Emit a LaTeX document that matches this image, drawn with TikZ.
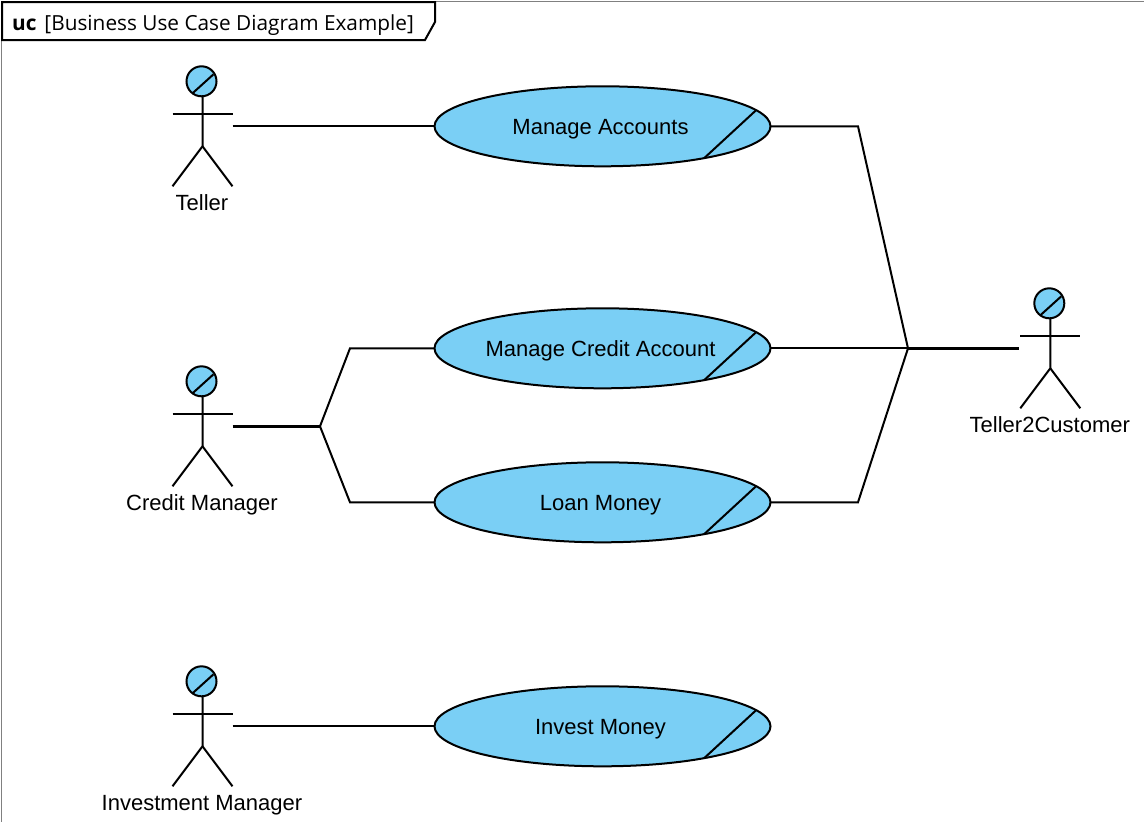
\documentclass[tikz,border=0pt]{standalone}
\usepackage{fontspec}
\setmainfont{Liberation Sans}
\newfontfamily\framefont{Open Sans}
\usetikzlibrary{calc,shapes.geometric}
\definecolor{ucblue}{HTML}{7ACFF5}
\tikzset{
  line/.style={line width=2pt,black},
  trunk/.style={line width=3pt,black},
  actorbox/.style={minimum width=60pt,minimum height=120pt,inner sep=0pt,outer sep=0pt},
  usecasebody/.style={draw,line width=2pt,fill=ucblue,ellipse,minimum width=336pt,minimum height=80pt,inner sep=0pt,outer sep=0pt},
  caption/.style={font=\fontsize{22}{26}\selectfont,inner sep=0pt,text=black,anchor=base}
}
\newcommand{\actor}[4]{
  \node[actorbox] (#1) at (#2,#3) {};
  \draw[line,fill=ucblue] ($(#1.center)+(-1,-45)$) circle (15pt);
  \draw[line] ($(#1.center)+(-10,-33)$) -- ($(#1.center)+(11,-52)$);% Slash in the head
  \draw[line] ($(#1.center)+(0,-30)$) -- ($(#1.center)+(0,20)$)
    -- ($(#1.center)+(-30,60)$);
  \draw[line] ($(#1.center)+(0,20)$) -- ($(#1.center)+(30,60)$);
  \draw[line] ($(#1.center)+(-30,-12)$) -- ($(#1.center)+(30,-12)$);
  \node[caption] (#1name) at ($(#1.south)+(-0.5,24.5)$) {#4};
}
\newcommand{\usecase}[4]{
  \node[usecasebody] (#1) at (#2,#3) {};
  \draw[line] ($(#1.center)+(101.5,32)$) -- ($(#1.center)+(153.5,-16)$);
  \node[caption] (#1name) at ($(#1.center)+(-2,8)$) {#4};
}
\begin{document}
\begin{tikzpicture}[x=1pt,y=-1pt]
    \useasboundingbox (0,0) rectangle (1144,822);
    \draw[gray,line width=1pt] (1,822) -- (1,1) -- (1144,1);

    \coordinate (tabA) at (2,2);
    \coordinate (tabB) at (435,2);
    \coordinate (tabC) at (435,22);
    \coordinate (tabD) at (425,40);
    \coordinate (tabE) at (2,40);
    \draw[line,fill=white] (tabA) -- (tabB) -- (tabC) -- (tabD) -- (tabE) -- cycle;
    \node[caption,anchor=base west,font=\framefont\fontsize{20.8}{25}\selectfont] (frametitle) at (12,30)
      {\textbf{uc}\hspace{2.5pt} [Business Use Case Diagram Example]};

    \foreach \name/\x/\y/\txt in {teller/202.5/126.3/Teller,
      credit/202.5/426.3/Credit Manager,
      invest/202.5/726.3/Investment Manager,
      customer/1050.3/348.3/Teller2Customer}{
      \actor{\name}{\x}{\y}{\txt}
    }

    \usecase{accounts}{602.5}{126.3}{Manage Accounts}
    \usecase{creditacc}{602.5}{348.3}{Manage Credit Account}
    \usecase{loan}{602.5}{502.3}{Loan Money}
    \usecase{money}{602.5}{726.3}{Invest Money}

    \coordinate (left) at (320,426.3);
    \coordinate (leftup) at (350,348.3);
    \coordinate (leftdown) at (350,502.3);
    \coordinate (right) at (908,348.3);
    \coordinate (rightup) at (858,126.3);
    \coordinate (rightdown) at (858,502.3);

    \draw[line] (teller.east) -- (accounts.west);
    \draw[line] (invest.east) -- (money.west);

    \draw[trunk] (credit.east) -- (left);
    \draw[line] (left) -- (leftup) -- (creditacc.west);
    \draw[line] (left) -- (leftdown) -- (loan.west);

    \draw[trunk,shorten >=1.5pt] (right) -- (customer.west);
    \draw[line] (accounts.east) -- (rightup) -- (right);
    \draw[line] (creditacc.east) -- (right);
    \draw[line] (loan.east) -- (rightdown) -- (right);
  \end{tikzpicture}
\end{document}
